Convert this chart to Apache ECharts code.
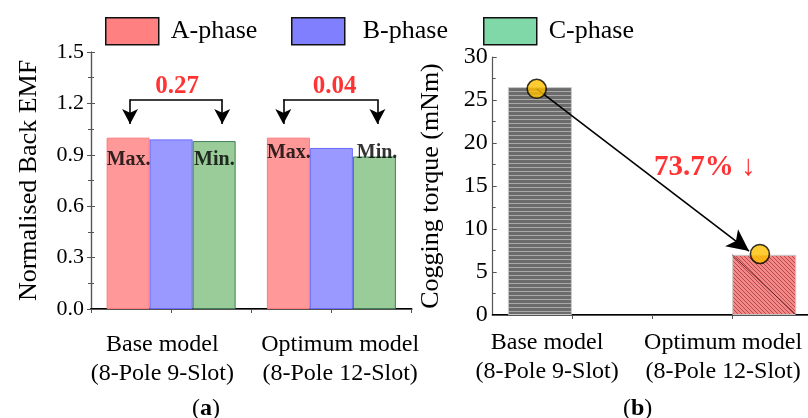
<!DOCTYPE html>
<html>
<head>
<meta charset="utf-8">
<script src="https://cdn.jsdelivr.net/npm/echarts@6/dist/echarts.min.js"></script>
<style>html,body{margin:0;padding:0;background:#fff;}#c{width:808px;height:418px;}</style>
</head>
<body>
<div id="c"></div>
<script>
// ---------- data ----------
var phaseNames = ['A-phase', 'B-phase', 'C-phase'];
var modelLabels = ['Base model\n(8-Pole 9-Slot)', 'Optimum model\n(8-Pole 12-Slot)'];
// positions of the two model groups on the hidden x scale (one unit = one top tick)
var emfGroupX = [1, 3];
var emfA = [1.00, 1.00];
var emfB = [0.99, 0.94];
var emfC = [0.98, 0.89];
var emfLabelX = [0.89, 3.11];
var emfYTicks = [0, 0.3, 0.6, 0.9, 1.2, 1.5];
var diffLabels = ['0.27', '0.04'];
var diffLabelPos = [[1.075, 1.30], [3.04, 1.30]];
var bracketLeftX = [0.4875, 2.4];
var bracketRightX = [1.6375, 3.575];
var bracketTop = 1.224;
var bracketTip = 1.08;
var maxMinText = ['Max.', 'Min.', 'Max.', 'Min.'];
var maxMinPos = [[0.47, 0.87], [1.54, 0.87], [2.47, 0.91], [3.57, 0.91]];

var cogX = [0.59, 3.394];
var cogVal = [26.5, 7.0];
var cogLabelX = [0.68, 2.88];
var cogYTicks = [0, 5, 10, 15, 20, 25, 30];
var cogXMax = 3.941; // right part of the panel is cut off by the picture edge
var cogBarHalf = 0.4;
var cogPoints = [[0.55, 26.3], [3.34, 7.1]];
var cogArrowEnd = [3.204, 7.44];
var reductionText = '73.7% ↓';
var reductionPos = [2.65, 17.1];

// ---------- patterns ----------
function hPattern() {
  var c = document.createElement('canvas'); c.width = 4; c.height = 4;
  var g = c.getContext('2d');
  g.fillStyle = '#6b6b6b'; g.fillRect(0, 0, 4, 4);
  g.fillStyle = '#a9a9a9'; g.fillRect(0, 3, 4, 1);
  return c;
}
function dPattern() {
  var c = document.createElement('canvas'); c.width = 4; c.height = 4;
  var g = c.getContext('2d');
  g.fillStyle = '#f08a8a'; g.fillRect(0, 0, 4, 4);
  g.fillStyle = '#c04646';
  for (var i = 0; i < 4; i++) { g.fillRect(i, i, 1, 1); }
  return c;
}

var FONT = "'Liberation Serif', 'Times New Roman', serif";
var chart = echarts.init(document.getElementById('c'), null, {renderer: 'canvas'});

function pairs(xs, ys) { return xs.map(function (x, i) { return [x, ys[i]]; }); }

var bracketLines = [];
for (var i = 0; i < 2; i++) {
  bracketLines.push([{coord: [bracketLeftX[i], bracketTop], symbol: 'none'}, {coord: [bracketLeftX[i], bracketTip], symbol: 'arrow'}]);
  bracketLines.push([{coord: [bracketLeftX[i], bracketTop], symbol: 'none'}, {coord: [bracketRightX[i], bracketTop], symbol: 'none'}]);
  bracketLines.push([{coord: [bracketRightX[i], bracketTop], symbol: 'none'}, {coord: [bracketRightX[i], bracketTip], symbol: 'arrow'}]);
}

var legendColors = ['#ff8080', '#8080ff', '#80d8a8'];
var legendLeft = [100, 286, 478];
var legendTextPad = [7, 13, 7];
var legends = phaseNames.map(function (n, i) {
  return {
    left: legendLeft[i], top: 12, itemWidth: 53, itemHeight: 27, itemGap: 0,
    icon: 'rect', selectedMode: false,
    data: [{name: n, itemStyle: {color: legendColors[i], borderColor: '#111', borderWidth: 1.5}}],
    textStyle: {fontFamily: FONT, fontSize: 26, color: '#000', padding: [0, 0, 0, legendTextPad[i]]}
  };
});

var tickStyle = {show: true, inside: true, length: 4, lineStyle: {color: '#555', width: 1}};
var minorStyle = {show: true, splitNumber: 2, length: 3, lineStyle: {color: '#555', width: 1}};
var titleStyle = {fontFamily: FONT, fontSize: 24, fontWeight: 'normal', color: '#000', rich: {b: {fontFamily: FONT, fontSize: 24, fontWeight: 'bold'}}};

chart.setOption({
  animation: false,
  title: [
    {text: '({b|a})', left: 187, top: 392, textStyle: titleStyle},
    {text: '({b|b})', left: 618, top: 392, textStyle: titleStyle}
  ],
  legend: legends,
  grid: [
    {left: 91, top: 52, width: 320.5, height: 257, containLabel: false},
    {left: 492.7, top: 57, right: 0, height: 258, containLabel: false}
  ],
  xAxis: [
    {gridIndex: 0, type: 'value', min: 0, max: 4, interval: 1, position: 'bottom',
     axisLine: {show: true, onZero: false, lineStyle: {color: '#000', width: 2}},
     axisTick: {show: false}, splitLine: {show: false},
     axisLabel: {customValues: emfLabelX, formatter: function (v) { var k = emfLabelX.indexOf(v); return k >= 0 ? modelLabels[k] : ''; },
       fontFamily: FONT, fontSize: 24, lineHeight: 29, color: '#000', margin: 21}},
    {gridIndex: 0, type: 'value', min: 0, max: 4, interval: 1, position: 'top',
     axisLine: {show: true, lineStyle: {color: '#555', width: 1.2}},
     axisTick: tickStyle, axisLabel: {show: false}, splitLine: {show: false}},
    {gridIndex: 1, type: 'value', min: 0, max: cogXMax, interval: 1, position: 'bottom',
     axisLine: {show: true, onZero: false, lineStyle: {color: '#000', width: 2}},
     axisTick: {show: false}, splitLine: {show: false},
     axisLabel: {customValues: cogLabelX, formatter: function (v) { var k = cogLabelX.indexOf(v); return k >= 0 ? modelLabels[k] : ''; },
       fontFamily: FONT, fontSize: 24, lineHeight: 29, color: '#000', margin: 13}},
    {gridIndex: 1, type: 'value', min: 0, max: cogXMax, interval: 1, position: 'top',
     axisLine: {show: true, lineStyle: {color: '#555', width: 1.2}},
     axisTick: {show: true, inside: true, length: 4, customValues: [1, 2, 3], lineStyle: {color: '#555', width: 1}},
     axisLabel: {show: false}, splitLine: {show: false}}
  ],
  yAxis: [
    {gridIndex: 0, type: 'value', min: emfYTicks[0], max: emfYTicks[emfYTicks.length - 1], interval: 0.3, position: 'left',
     name: 'Normalised Back EMF', nameLocation: 'middle', nameGap: 49,
     nameTextStyle: {fontFamily: FONT, fontSize: 26, color: '#000'},
     axisLine: {show: true, lineStyle: {color: '#555', width: 1.2}},
     axisTick: tickStyle, minorTick: minorStyle, splitLine: {show: false},
     axisLabel: {fontFamily: FONT, fontSize: 22, color: '#000', margin: 7, formatter: function (v) { return v.toFixed(1); }}},
    {gridIndex: 0, type: 'value', min: emfYTicks[0], max: emfYTicks[emfYTicks.length - 1], interval: 0.3, position: 'right',
     axisLine: {show: true, lineStyle: {color: '#555', width: 1.2}},
     axisTick: tickStyle, minorTick: minorStyle, splitLine: {show: false}, axisLabel: {show: false}},
    {gridIndex: 1, type: 'value', min: cogYTicks[0], max: cogYTicks[cogYTicks.length - 1], interval: 5, position: 'left',
     name: 'Cogging torque (mNm)', nameLocation: 'middle', nameGap: 49,
     nameTextStyle: {fontFamily: FONT, fontSize: 26, color: '#000'},
     axisLine: {show: true, lineStyle: {color: '#555', width: 1.2}},
     axisTick: tickStyle, minorTick: minorStyle, splitLine: {show: false},
     axisLabel: {fontFamily: FONT, fontSize: 24, color: '#000', margin: 5}}
  ],
  series: [
    {name: phaseNames[0], type: 'bar', xAxisIndex: 0, yAxisIndex: 0, barWidth: 43, barGap: '0%',
     data: pairs(emfGroupX, emfA), itemStyle: {color: '#ff9999', borderColor: '#ff7a7a', borderWidth: 1}},
    {name: phaseNames[1], type: 'bar', xAxisIndex: 0, yAxisIndex: 0, barWidth: 43, barGap: '0%',
     data: pairs(emfGroupX, emfB), itemStyle: {color: '#9999ff', borderColor: '#6b6bff', borderWidth: 1}},
    {name: phaseNames[2], type: 'bar', xAxisIndex: 0, yAxisIndex: 0, barWidth: 43, barGap: '0%',
     data: pairs(emfGroupX, emfC), itemStyle: {color: '#99cc99', borderColor: '#3f7f55', borderWidth: 1}},
    {type: 'scatter', xAxisIndex: 0, yAxisIndex: 0, symbolSize: 0, z: 5,
     data: maxMinPos.map(function (p, i) { return {value: p, label: {formatter: maxMinText[i]}}; }),
     label: {show: true, position: 'inside', fontFamily: FONT, fontSize: 20, fontWeight: 'bold', color: '#000'}},
    {type: 'scatter', xAxisIndex: 0, yAxisIndex: 0, symbolSize: 0, z: 5,
     data: diffLabelPos.map(function (p, i) { return {value: p, label: {formatter: diffLabels[i]}}; }),
     label: {show: true, position: 'inside', fontFamily: FONT, fontSize: 25, fontWeight: 'bold', color: '#ff0000'},
     markLine: {silent: true, animation: false, symbolSize: [12, 15], label: {show: false},
       lineStyle: {color: '#000', width: 1.6, type: 'solid'}, data: bracketLines}},
    {type: 'bar', xAxisIndex: 2, yAxisIndex: 2, barWidth: 64,
     data: [
       {value: [cogX[0], cogVal[0]], itemStyle: {color: {image: hPattern(), repeat: 'repeat'}, borderColor: '#c8c8c8', borderWidth: 1}},
       {value: [cogX[1], cogVal[1]], itemStyle: {color: {image: dPattern(), repeat: 'repeat'}, borderColor: '#c8c8c8', borderWidth: 1}}
     ],
     markLine: {silent: true, animation: false, symbol: ['none', 'none'], label: {show: false},
       lineStyle: {color: '#4a1010', width: 0.8, type: 'solid'},
       data: [[{coord: [cogX[1] - cogBarHalf, cogVal[1]]}, {coord: [cogX[1] + cogBarHalf, 0]}]]}},
    {type: 'scatter', xAxisIndex: 2, yAxisIndex: 2, symbol: 'circle', symbolSize: 19, z: 6,
     itemStyle: {color: '#ffc000', borderColor: '#000', borderWidth: 1.6},
     data: cogPoints,
     markLine: {silent: true, animation: false, symbol: ['none', 'arrow'], symbolSize: [16, 22], label: {show: false},
       lineStyle: {color: '#000', width: 1.6, type: 'solid'},
       data: [[{coord: cogPoints[0]}, {coord: cogArrowEnd}]]}},
    {type: 'scatter', xAxisIndex: 2, yAxisIndex: 2, symbolSize: 0, z: 5,
     data: [{value: reductionPos, label: {formatter: reductionText}}],
     label: {show: true, position: 'inside', fontFamily: FONT, fontSize: 29, fontWeight: 'bold', color: '#ff0000'}}
  ]
});
</script>
</body>
</html>
